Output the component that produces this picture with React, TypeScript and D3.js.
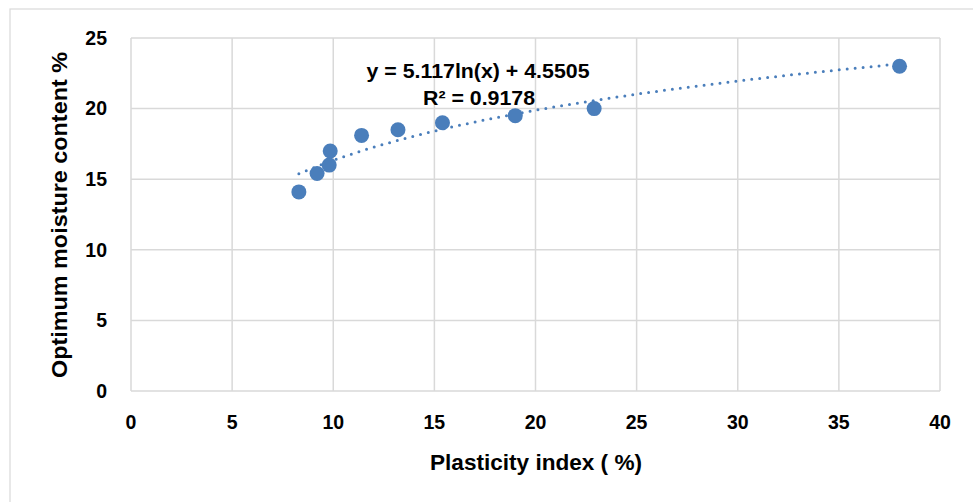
import React from "react";
import * as d3 from "d3";

// Plasticity index (%) vs optimum moisture content (%)
const plasticityIndex = [8.3, 9.2, 9.8, 9.85, 11.4, 13.2, 15.4, 19.0, 22.9, 38.0];
const moistureContent = [14.1, 15.4, 16.0, 17.0, 18.1, 18.5, 19.0, 19.5, 20.0, 23.0];
const xTicks = [0, 5, 10, 15, 20, 25, 30, 35, 40];
const yTicks = [0, 5, 10, 15, 20, 25];
// Logarithmic trendline coefficients: y = a ln(x) + b
const trendA = 5.117;
const trendB = 4.5505;
const equationLabel = "y = 5.117ln(x) + 4.5505";
const r2Label = "R² = 0.9178";

const W = 973;
const H = 502;
const FONT = "'Liberation Sans', Arial, sans-serif";
const BLUE = "#4A7EBB";

export default function App() {
  const x = d3.scaleLinear().domain([0, 40]).range([131, 940]);
  const y = d3.scaleLinear().domain([0, 25]).range([391, 38]);

  const xMin = d3.min(plasticityIndex) as number;
  const xMax = d3.max(plasticityIndex) as number;
  const trendPts = d3.range(0, 101).map((i) => {
    const v = xMin + ((xMax - xMin) * i) / 100;
    return [v, trendA * Math.log(v) + trendB] as [number, number];
  });
  const trendPath = d3
    .line<[number, number]>()
    .x((d) => x(d[0]))
    .y((d) => y(d[1]))(trendPts) as string;

  return (
    <svg
      width={W}
      height={H}
      style={{ position: "absolute", left: 0, top: 0, background: "#fff" }}
    >
      <rect x={10} y={9} width={980} height={510} fill="#fff" stroke="#d9d9d9" strokeWidth={1.2} />

      {/* gridlines */}
      {xTicks.map((t) => (
        <line key={"gx" + t} x1={x(t)} x2={x(t)} y1={y(25)} y2={y(0)} stroke="#d9d9d9" strokeWidth={1.5} />
      ))}
      {yTicks.map((t) => (
        <line key={"gy" + t} x1={x(0)} x2={x(40)} y1={y(t)} y2={y(t)} stroke="#d9d9d9" strokeWidth={1.5} />
      ))}

      {/* tick labels */}
      {yTicks.map((t) => (
        <text
          key={"ty" + t}
          x={107}
          y={y(t)}
          dy="0.35em"
          textAnchor="end"
          fontFamily={FONT}
          fontWeight="bold"
          fontSize={19.5}
          fill="#000"
        >
          {t}
        </text>
      ))}
      {xTicks.map((t) => (
        <text
          key={"tx" + t}
          x={x(t)}
          y={422}
          dy="0.35em"
          textAnchor="middle"
          fontFamily={FONT}
          fontWeight="bold"
          fontSize={19.5}
          fill="#000"
        >
          {t}
        </text>
      ))}

      {/* axis titles */}
      <text
        x={536}
        y={470}
        textAnchor="middle"
        fontFamily={FONT}
        fontWeight="bold"
        fontSize={22}
        textLength={212}
        lengthAdjust="spacingAndGlyphs"
        fill="#000"
      >
        Plasticity index ( %)
      </text>
      <text
        transform={`translate(66.5,215) rotate(-90)`}
        textAnchor="middle"
        fontFamily={FONT}
        fontWeight="bold"
        fontSize={22}
        textLength={326}
        lengthAdjust="spacingAndGlyphs"
        fill="#000"
      >
        Optimum moisture content %
      </text>

      {/* trendline */}
      <path
        d={trendPath}
        fill="none"
        stroke={BLUE}
        strokeWidth={3}
        strokeLinecap="round"
        strokeDasharray="0 8"
      />

      {/* data points */}
      {plasticityIndex.map((v, i) => (
        <circle key={"p" + i} cx={x(v)} cy={y(moistureContent[i])} r={7.5} fill={BLUE} />
      ))}

      {/* equation */}
      <text
        x={478}
        y={78}
        textAnchor="middle"
        fontFamily={FONT}
        fontWeight="bold"
        fontSize={21}
        textLength={223}
        lengthAdjust="spacingAndGlyphs"
        fill="#000"
      >
        {equationLabel}
      </text>
      <text
        x={479}
        y={105}
        textAnchor="middle"
        fontFamily={FONT}
        fontWeight="bold"
        fontSize={21}
        textLength={112}
        lengthAdjust="spacingAndGlyphs"
        fill="#000"
      >
        {r2Label}
      </text>
    </svg>
  );
}
